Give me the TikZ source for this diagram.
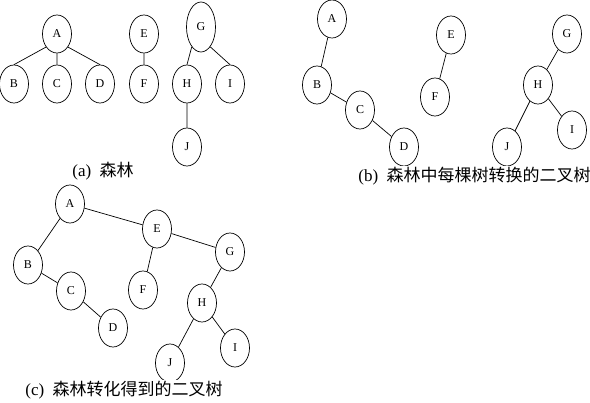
\documentclass[tikz,border=0pt]{standalone}
\usepackage{fontspec}
\setmainfont{Liberation Serif}
\newfontfamily\cjk{Noto Sans CJK SC}
\usetikzlibrary{shapes.geometric}

\begin{document}
\begin{tikzpicture}[x = 1pt, y = -1pt, line width = 0.7pt,
    vx/.style = { draw, shape = ellipse, inner sep = 0pt, minimum width = 29pt,
                  minimum height = 38pt, font = \fontsize{12}{12}\selectfont },
    subcap/.style = { anchor = west, fill = white, inner sep = 1pt,
                      font = \fontsize{17}{17}\selectfont }]
  \useasboundingbox (0,0) rectangle (590,403);

  \node [vx] (aA) at (57,34) {A};
  \node [vx] (aB) at (14,84) {B};
  \node [vx] (aC) at (57,84) {C};
  \node [vx] (aD) at (100,84) {D};
  \node [vx] (aE) at (144,34) {E};
  \node [vx] (aF) at (144,84) {F};
  \node [vx, minimum height = 50pt] (aG) at (201,27) {G};
  \node [vx] (aH) at (187,84) {H};
  \node [vx] (aI) at (230,84) {I};
  \node [vx] (aJ) at (187,147) {J};
  \draw (aA.230) -- (aB.north) (aA) -- (aC) (aA.310) -- (aD.north) (aE) -- (aF)
        (aG.245) -- (aH.north) (aG.295) -- (aI.north) (aH) -- (aJ);
  \node [subcap] (capa) at (71,171) {(a)\ \ {\cjk 森林}};

  \node [vx] (bA) at (332,19) {A};
  \node [vx] (bB) at (317,85) {B};
  \node [vx] (bC) at (360,110) {C};
  \node [vx] (bD) at (404,147) {D};
  \node [vx] (bE) at (451,35) {E};
  \node [vx] (bF) at (435,97) {F};
  \node [vx] (bG) at (567,34) {G};
  \node [vx] (bH) at (538,85) {H};
  \node [vx] (bI) at (572,130) {I};
  \node [vx] (bJ) at (507,147) {J};
  \foreach \u/\v in {A/B, B/C, C/D, E/F, G/H, H/I, H/J}
    \draw (b\u) -- (b\v);
  \node [subcap] (capb) at (357,176) {(b)\ \ {\cjk 森林中每棵树转换的二叉树}};

  \node [vx] (cA) at (70,204) {A};
  \node [vx] (cB) at (28,265) {B};
  \node [vx] (cC) at (71,291) {C};
  \node [vx] (cD) at (113,328) {D};
  \node [vx] (cE) at (157,229) {E};
  \node [vx] (cF) at (143,290) {F};
  \node [vx] (cG) at (230,252) {G};
  \node [vx] (cH) at (202,303) {H};
  \node [vx] (cI) at (235,348) {I};
  \node [vx] (cJ) at (170,363) {J};
  \foreach \u/\v in {A/B, B/C, C/D, A/E, E/F, E/G, G/H, H/I, H/J}
    \draw (c\u) -- (c\v);
  \node [subcap] (capc) at (24,390) {(c)\ \ {\cjk 森林转化得到的二叉树}};
\end{tikzpicture}
\end{document}
